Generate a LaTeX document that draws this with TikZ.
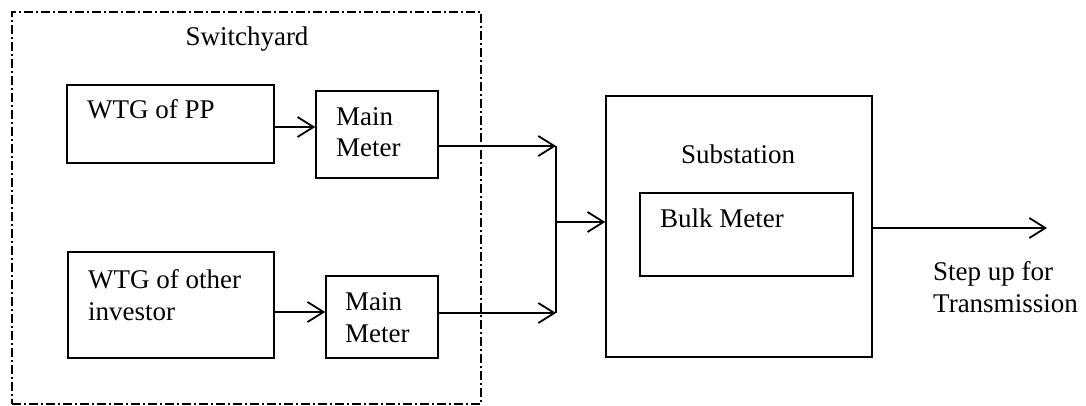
\documentclass[tikz,border=0pt]{standalone}
\usepackage{fontspec}
\setmainfont{Liberation Serif}
\usetikzlibrary{arrows.meta}

\tikzset{
  blk/.style={draw, line width=1.6pt, inner sep=0pt},
  lbl/.style={inner sep=0pt, anchor=base west, align=left, font=\fontsize{27}{31.5}\selectfont},
  arr/.style={line width=1.6pt, -{Straight Barb[length=16pt,width=20pt,line width=1.8pt]}}
}

\begin{document}
\begin{tikzpicture}[x=1pt,y=-1pt]
\useasboundingbox (0,0) rectangle (1086,406);

\node[draw, line width=1.4pt, dash pattern=on 9pt off 3pt on 2pt off 3pt,
      minimum width=469, minimum height=392] (yard) at (246.5,208) {};
\node[lbl, anchor=base] (yardtxt) at (247,46) {Switchyard};

\node[blk, minimum width=207, minimum height=78] (wtgA) at (170.5,124) {};
\node[blk, minimum width=122, minimum height=87] (meterA) at (377,134.5) {};
\node[blk, minimum width=206, minimum height=106] (wtgB) at (171,305) {};
\node[blk, minimum width=112, minimum height=82] (meterB) at (382,317) {};

\node[lbl] (wtgAtxt) at (87,119) {WTG of PP};
\node[lbl] (meterAtxt) at (336,157) {Main\\Meter};
\node[lbl] (wtgBtxt) at (88,320) {WTG of other\\investor};
\node[lbl] (meterBtxt) at (345,342) {Main\\Meter};

\node[blk, minimum width=266, minimum height=261] (sub) at (739,226.5) {};
\node[lbl, anchor=base] (subtxt) at (738,164) {Substation};
\node[blk, minimum width=213, minimum height=83] (bulk) at (746.5,234.5) {};
\node[lbl] (bulktxt) at (660,227) {Bulk Meter};
\node[lbl] (steptxt) at (933,312) {Step up for\\Transmission};

\coordinate (jA) at (556,146);
\coordinate (jB) at (556,313);
\coordinate (jM) at (556,222);
\coordinate (out) at (1047,228);

\draw[arr] (wtgA.east |- 0,127) -- (meterA.west |- 0,127);
\draw[arr] (wtgB.east |- 0,312) -- (meterB.west |- 0,312);
\draw[arr] (meterA.east |- jA) -- (jA);
\draw[arr] (meterB.east |- jB) -- (jB);
\draw[line width=1.6pt] (jA) -- (jB);
\draw[arr] (jM) -- (sub.west |- jM);
\draw[arr] (sub.east |- out) -- (out);
\end{tikzpicture}
\end{document}
